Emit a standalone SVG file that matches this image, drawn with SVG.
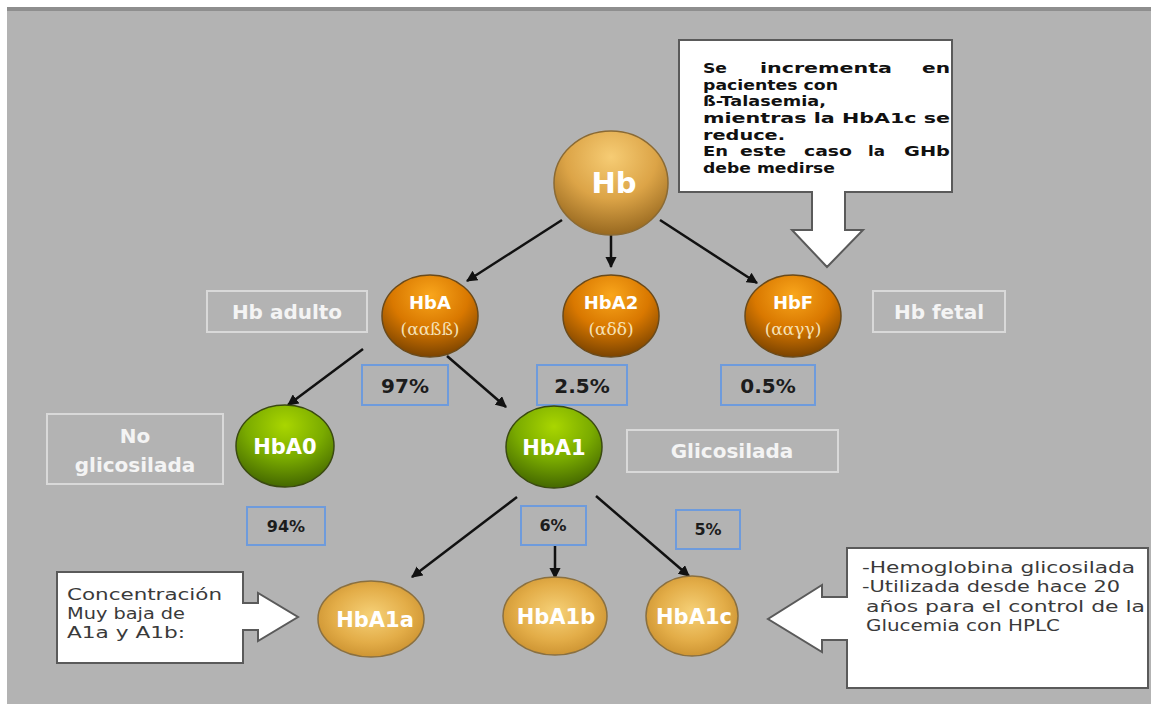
<svg xmlns="http://www.w3.org/2000/svg" width="1151" height="706" viewBox="0 0 1151 706">
<defs>
<style>
.bg{fill:#b3b3b3}
.lbl{fill:none;stroke:#d9d9d9;stroke-width:2}
.lbltxt{font-family:"DejaVu Sans",Verdana,sans-serif;font-weight:bold;fill:#f4f4f4;text-anchor:middle}
.pct{fill:none;stroke:#6e9bdc;stroke-width:2}
.pcttxt{font-family:"DejaVu Sans",Verdana,sans-serif;font-weight:bold;fill:#1c1c1c;text-anchor:middle}
.ntxt{font-family:"DejaVu Sans",Verdana,sans-serif;font-weight:bold;fill:#ffffff;text-anchor:middle}
.sub{font-family:"DejaVu Serif","Liberation Serif",serif;fill:#f5e2b8;text-anchor:middle}
.call{fill:#ffffff;stroke:#5a5a5a;stroke-width:2}
.ctxt{font-family:"DejaVu Sans",Verdana,sans-serif;fill:#3a3a3a}
.btxt{font-family:"DejaVu Sans",Verdana,sans-serif;font-weight:bold;fill:#111;font-size:14px}
.conn{stroke:#111;stroke-width:2.5;fill:none;marker-end:url(#ah)}
.nd{stroke-width:1.5}
</style>
<marker id="ah" viewBox="0 0 10 10" refX="9" refY="5" markerWidth="4.5" markerHeight="4.5" orient="auto" markerUnits="strokeWidth">
<path d="M0,0 L10,5 L0,10 Z" fill="#111"/>
</marker>
<radialGradient id="gGold" cx="50%" cy="25%" r="80%">
<stop offset="0" stop-color="#f6cc74"/>
<stop offset="0.5" stop-color="#dca447"/>
<stop offset="1" stop-color="#8e601a"/>
</radialGradient>
<radialGradient id="gOrange" cx="50%" cy="25%" r="80%">
<stop offset="0" stop-color="#f9a61c"/>
<stop offset="0.5" stop-color="#d97800"/>
<stop offset="1" stop-color="#6e3c00"/>
</radialGradient>
<radialGradient id="gGreen" cx="50%" cy="25%" r="80%">
<stop offset="0" stop-color="#a9d600"/>
<stop offset="0.5" stop-color="#7aab00"/>
<stop offset="1" stop-color="#3c5e00"/>
</radialGradient>
<radialGradient id="gLight" cx="50%" cy="45%" r="60%">
<stop offset="0" stop-color="#f6d178"/>
<stop offset="0.6" stop-color="#e3ad48"/>
<stop offset="1" stop-color="#c98f2e"/>
</radialGradient>
</defs>

<rect x="0" y="0" width="1151" height="706" fill="#ffffff"/>
<rect class="bg" x="7" y="7" width="1144" height="697"/>
<rect x="7" y="7" width="1144" height="4" fill="#8e8e8e"/>

<g id="connectors">
<line class="conn" x1="562" y1="220" x2="467" y2="281"/>
<line class="conn" x1="611" y1="235" x2="611" y2="267"/>
<line class="conn" x1="660" y1="220" x2="757" y2="283"/>
<line class="conn" x1="363" y1="349" x2="288" y2="405"/>
<line class="conn" x1="447" y1="356" x2="506" y2="407"/>
<line class="conn" x1="517" y1="497" x2="412" y2="577"/>
<line class="conn" x1="555" y1="545" x2="555" y2="578"/>
<line class="conn" x1="596" y1="496" x2="689" y2="576"/>
</g>

<g id="callout-top">
<path class="call" d="M679,40 H952 V192 H845 V230 H863 L827,267 L792,230 H812 V192 H679 Z"/>
<text class="btxt" x="703" y="73" textLength="24" lengthAdjust="spacingAndGlyphs">Se</text>
<text class="btxt" x="760" y="73" textLength="132" lengthAdjust="spacingAndGlyphs">incrementa</text>
<text class="btxt" x="922" y="73" textLength="28" lengthAdjust="spacingAndGlyphs">en</text>
<text class="btxt" x="703" y="90" textLength="135" lengthAdjust="spacingAndGlyphs">pacientes con</text>
<text class="btxt" x="703" y="106" textLength="123" lengthAdjust="spacingAndGlyphs">ß-Talasemia,</text>
<text class="btxt" x="703" y="123" textLength="247" lengthAdjust="spacingAndGlyphs">mientras la HbA1c se</text>
<text class="btxt" x="703" y="140" textLength="82" lengthAdjust="spacingAndGlyphs">reduce.</text>
<text class="btxt" x="703" y="156" textLength="25" lengthAdjust="spacingAndGlyphs">En</text>
<text class="btxt" x="740" y="156" textLength="46" lengthAdjust="spacingAndGlyphs">este</text>
<text class="btxt" x="804" y="156" textLength="48" lengthAdjust="spacingAndGlyphs">caso</text>
<text class="btxt" x="868" y="156" textLength="17" lengthAdjust="spacingAndGlyphs">la</text>
<text class="btxt" x="904" y="156" textLength="46" lengthAdjust="spacingAndGlyphs">GHb</text>
<text class="btxt" x="703" y="173" textLength="132" lengthAdjust="spacingAndGlyphs">debe medirse</text>
</g>

<g id="callout-left">
<path class="call" d="M57,572 H243 V603 H258 V593 L298,617 L258,641 V630 H243 V663 H57 Z"/>
<text class="ctxt" font-size="16" x="67" y="600" textLength="155" lengthAdjust="spacingAndGlyphs">Concentración</text>
<text class="ctxt" font-size="16" x="67" y="619" textLength="118" lengthAdjust="spacingAndGlyphs">Muy baja de</text>
<text class="ctxt" font-size="16" x="67" y="638" textLength="118" lengthAdjust="spacingAndGlyphs">A1a y A1b:</text>
</g>

<g id="callout-right">
<path class="call" d="M847,548 H1148 V688 H847 V640 H822 V652 L768,619 L822,585 V597 H847 Z"/>
<text class="ctxt" font-size="16" x="862" y="573" textLength="273" lengthAdjust="spacingAndGlyphs">-Hemoglobina glicosilada</text>
<text class="ctxt" font-size="16" x="862" y="592" textLength="258" lengthAdjust="spacingAndGlyphs">-Utilizada desde hace 20</text>
<text class="ctxt" font-size="16" x="866" y="612" textLength="279" lengthAdjust="spacingAndGlyphs">años para el control de la</text>
<text class="ctxt" font-size="16" x="866" y="631" textLength="194" lengthAdjust="spacingAndGlyphs">Glucemia con HPLC</text>
</g>

<g id="node-Hb">
<ellipse class="nd" cx="611" cy="183" rx="57" ry="52" fill="url(#gGold)" stroke="#8a6a34"/>
<text class="ntxt" font-size="29" x="614" y="193">Hb</text>
</g>

<g id="node-HbA">
<ellipse class="nd" cx="430" cy="316" rx="48" ry="41" fill="url(#gOrange)" stroke="#6a4a1a"/>
<text class="ntxt" font-size="18" x="430" y="309">HbA</text>
<text class="sub" font-size="17" x="430" y="335">(ααßß)</text>
</g>

<g id="node-HbA2">
<ellipse class="nd" cx="611" cy="316" rx="48" ry="41" fill="url(#gOrange)" stroke="#6a4a1a"/>
<text class="ntxt" font-size="18" x="611" y="309">HbA2</text>
<text class="sub" font-size="17" x="611" y="335">(αδδ)</text>
</g>

<g id="node-HbF">
<ellipse class="nd" cx="793" cy="316" rx="48" ry="41" fill="url(#gOrange)" stroke="#6a4a1a"/>
<text class="ntxt" font-size="18" x="793" y="309">HbF</text>
<text class="sub" font-size="17" x="793" y="335">(ααγγ)</text>
</g>

<g id="label-adulto">
<rect class="lbl" x="207" y="291" width="160" height="41"/>
<text class="lbltxt" font-size="20" x="287" y="319">Hb adulto</text>
</g>

<g id="label-fetal">
<rect class="lbl" x="873" y="291" width="132" height="41"/>
<text class="lbltxt" font-size="20" x="939" y="319">Hb fetal</text>
</g>

<g id="pct-97">
<rect class="pct" x="362" y="365" width="86" height="40"/>
<text class="pcttxt" font-size="20" x="405" y="393">97%</text>
</g>
<g id="pct-2-5">
<rect class="pct" x="537" y="365" width="90" height="40"/>
<text class="pcttxt" font-size="20" x="582" y="393">2.5%</text>
</g>
<g id="pct-0-5">
<rect class="pct" x="721" y="365" width="94" height="40"/>
<text class="pcttxt" font-size="20" x="768" y="393">0.5%</text>
</g>

<g id="node-HbA0">
<ellipse class="nd" cx="285" cy="446" rx="49" ry="41" fill="url(#gGreen)" stroke="#3a4a10"/>
<text class="ntxt" font-size="21" x="285" y="454">HbA0</text>
</g>

<g id="node-HbA1">
<ellipse class="nd" cx="554" cy="447" rx="48" ry="41" fill="url(#gGreen)" stroke="#3a4a10"/>
<text class="ntxt" font-size="21" x="554" y="455">HbA1</text>
</g>

<g id="label-noglic">
<rect class="lbl" x="47" y="414" width="176" height="70"/>
<text class="lbltxt" font-size="20" x="135" y="443">No</text>
<text class="lbltxt" font-size="20" x="135" y="472">glicosilada</text>
</g>

<g id="label-glic">
<rect class="lbl" x="627" y="430" width="211" height="42"/>
<text class="lbltxt" font-size="20" x="732" y="458">Glicosilada</text>
</g>

<g id="pct-94">
<rect class="pct" x="247" y="507" width="78" height="38"/>
<text class="pcttxt" font-size="16" x="286" y="532">94%</text>
</g>
<g id="pct-6">
<rect class="pct" x="521" y="506" width="65" height="39"/>
<text class="pcttxt" font-size="16" x="553" y="531">6%</text>
</g>
<g id="pct-5">
<rect class="pct" x="676" y="510" width="64" height="39"/>
<text class="pcttxt" font-size="16" x="708" y="535">5%</text>
</g>

<g id="node-HbA1a">
<ellipse class="nd" cx="371" cy="619" rx="53" ry="38" fill="url(#gLight)" stroke="#8a7040"/>
<text class="ntxt" font-size="21" x="375" y="627">HbA1a</text>
</g>
<g id="node-HbA1b">
<ellipse class="nd" cx="555" cy="616" rx="52" ry="39" fill="url(#gLight)" stroke="#8a7040"/>
<text class="ntxt" font-size="21" x="556" y="624">HbA1b</text>
</g>
<g id="node-HbA1c">
<ellipse class="nd" cx="692" cy="616" rx="46" ry="40" fill="url(#gLight)" stroke="#8a7040"/>
<text class="ntxt" font-size="21" x="694" y="624">HbA1c</text>
</g>
</svg>
